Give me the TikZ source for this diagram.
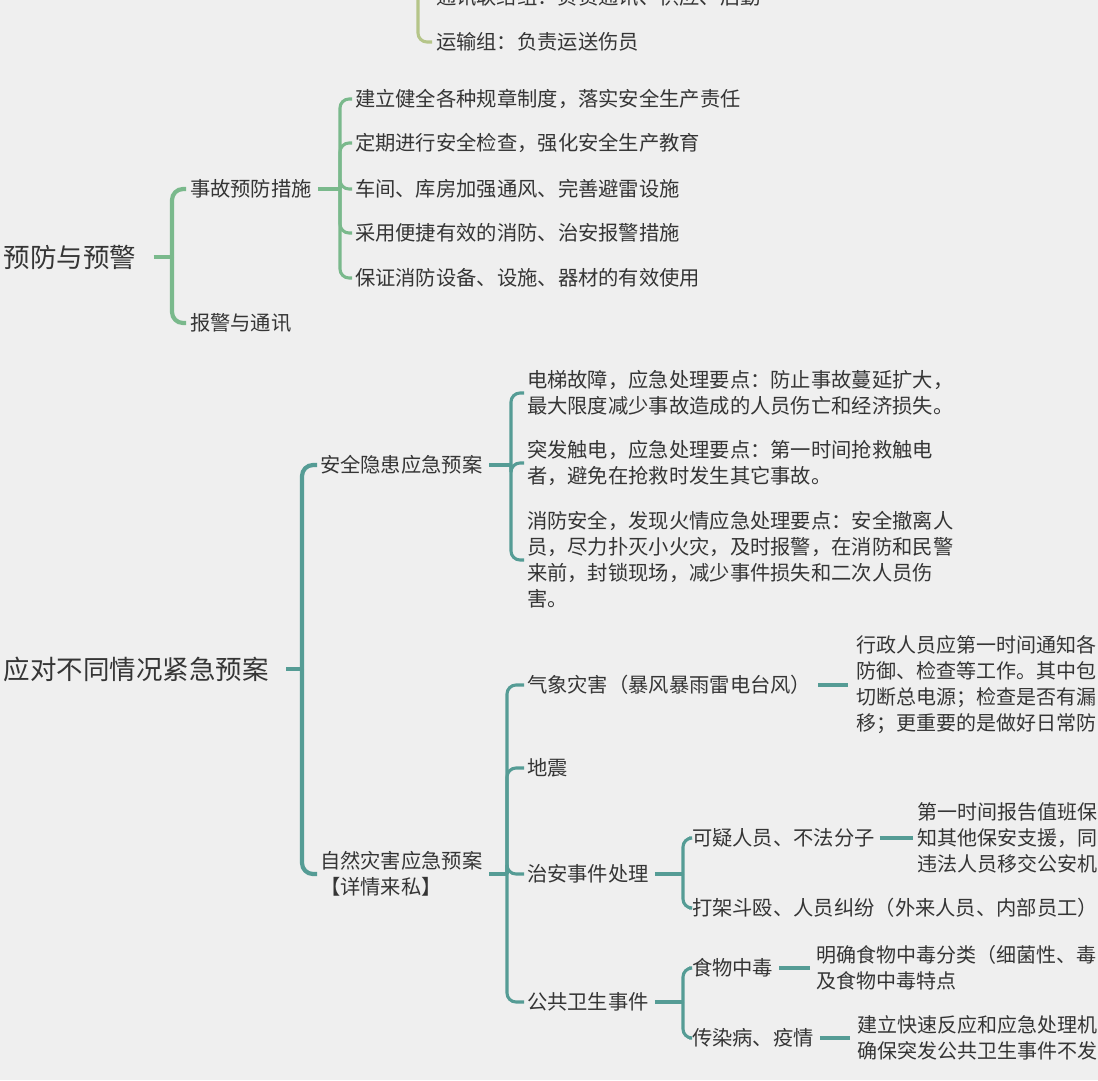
\documentclass[tikz,border=0pt]{standalone}
\usepackage{fontspec}
\setmainfont{Noto Sans CJK SC}
\definecolor{bgc}{HTML}{EFEFEF}
\definecolor{txt}{HTML}{353535}
\definecolor{olivec}{HTML}{B5C589}
\definecolor{greenc}{HTML}{7AB98C}
\definecolor{tealc}{HTML}{559C95}
\tikzset{
  lbl/.style={inner sep=0pt, outer sep=0pt, anchor=west, text=txt, align=left, font=\fontsize{20.3}{26}\selectfont},
  edgelbl/.style={lbl, font=\fontsize{20}{26}\selectfont},
  rootlbl/.style={lbl, font=\fontsize{26.5}{32}\selectfont},
  oline/.style={draw=olivec, line width=3.1pt, rounded corners=9pt},
  gmain/.style={draw=greenc, line width=4.2pt, rounded corners=11pt},
  gsub/.style={draw=greenc, line width=3.1pt, rounded corners=9pt},
  tmain/.style={draw=tealc, line width=4.2pt, rounded corners=11pt},
  tsub/.style={draw=tealc, line width=3.1pt, rounded corners=9pt},
}
\begin{document}
\begin{tikzpicture}[x=1pt,y=-1pt]
\fill[bgc] (0,0) rectangle (1098,1080);
\useasboundingbox (0,0) rectangle (1098,1080);
\clip (0,0) rectangle (1098,1080);

% ---------- top (olive) ----------
\node[lbl] (T0) at (436,-3) {通讯联络组：负责通讯、供应、后勤};
\node[lbl] (T1) at (436,42) {运输组：负责运送伤员};
\coordinate (ttop) at (418,-40);
\draw[oline] (ttop) |- ([xshift=-4pt]T0.west);
\draw[oline] (ttop) |- ([xshift=-4pt]T1.west);

% ---------- 预防与预警 (green) ----------
\node[rootlbl] (R1) at (4,257) {预防与预警};
\node[lbl] (A) at (190,189) {事故预防措施};
\node[lbl] (B) at (190,323) {报警与通讯};
\node[lbl] (A1) at (355,99) {建立健全各种规章制度，落实安全生产责任};
\node[lbl] (A2) at (355,143) {定期进行安全检查，强化安全生产教育};
\node[lbl] (A3) at (355,189) {车间、库房加强通风、完善避雷设施};
\node[lbl] (A4) at (355,233) {采用便捷有效的消防、治安报警措施};
\node[lbl] (A5) at (355,278) {保证消防设备、设施、器材的有效使用};

\coordinate (j1) at (172,257);
\coordinate (j2) at (340,189);
\draw[gmain] ([xshift=17pt]R1.east) -- (j1);
\draw[gmain] (j1) |- ([xshift=-4pt]A.west);
\draw[gmain] (j1) |- ([xshift=-4pt]B.west);
\draw[gsub] ([xshift=6pt]A.east) -- (j2);
\foreach \c in {A1,A2,A3,A4,A5}{
  \draw[gsub] (j2) |- ([xshift=-3pt]\c.west);
}

% ---------- 应对不同情况紧急预案 (teal) ----------
\node[rootlbl] (R2) at (4,669) {应对不同情况紧急预案};
\node[lbl] (C) at (320,465) {安全隐患应急预案};
\node[lbl] (D) at (320,874) {自然灾害应急预案\\【详情来私】};

\node[lbl] (C1) at (527,393) {电梯故障，应急处理要点：防止事故蔓延扩大，\\最大限度减少事故造成的人员伤亡和经济损失。};
\node[lbl] (C2) at (527,463) {突发触电，应急处理要点：第一时间抢救触电\\者，避免在抢救时发生其它事故。};
\node[lbl] (C3) at (527,560) {消防安全，发现火情应急处理要点：安全撤离人\\员，尽力扑灭小火灾，及时报警，在消防和民警\\来前，封锁现场，减少事件损失和二次人员伤\\害。};

\node[lbl] (E1) at (527,685) {气象灾害（暴风暴雨雷电台风）};
\node[edgelbl] (E1a) at (856,685) {行政人员应第一时间通知各\\防御、检查等工作。其中包\\切断总电源；检查是否有漏\\移；更重要的是做好日常防};
\node[lbl] (E2) at (527,768) {地震};
\node[lbl] (E3) at (527,874) {治安事件处理};
\node[lbl] (F1) at (692,838) {可疑人员、不法分子};
\node[edgelbl] (F1a) at (917,838) {第一时间报告值班保\\知其他保安支援，同\\违法人员移交公安机};
\node[lbl] (F2) at (692,908) {打架斗殴、人员纠纷（外来人员、内部员工）};
\node[lbl] (E4) at (527,1002) {公共卫生事件};
\node[lbl] (G1) at (692,968) {食物中毒};
\node[edgelbl] (G1a) at (816,968) {明确食物中毒分类（细菌性、毒\\及食物中毒特点};
\node[lbl] (G2) at (692,1038) {传染病、疫情};
\node[edgelbl] (G2a) at (857,1038) {建立快速反应和应急处理机\\确保突发公共卫生事件不发};

\coordinate (j3) at (302,669);
\coordinate (j4) at (511,465);
\coordinate (j5) at (507,874);
\coordinate (j6) at (683,874);
\coordinate (j7) at (683,1002);

\draw[tmain] ([xshift=17pt]R2.east) -- (j3);
\draw[tmain] (j3) |- ([xshift=-3pt]C.west);
\draw[tmain] (j3) |- ([xshift=-3pt]D.west);

\draw[tsub] ([xshift=7pt]C.east) -- (j4);
\foreach \c in {C1,C2,C3}{
  \draw[tsub] (j4) |- ([xshift=-3pt]\c.west);
}

\draw[tsub] ([xshift=7pt]D.east) -- (j5);
\foreach \c in {E1,E2,E3,E4}{
  \draw[tsub] (j5) |- ([xshift=-3pt]\c.west);
}
\draw[tsub] ([xshift=7pt]E1.east) -- ([xshift=-8pt]E1a.west);

\draw[tsub] ([xshift=6pt]E3.east) -- (j6);
\foreach \c in {F1,F2}{
  \draw[tsub] (j6) |- ([xshift=-3pt]\c.west);
}
\draw[tsub] ([xshift=5pt]F1.east) -- ([xshift=-4pt]F1a.west);

\draw[tsub] ([xshift=6pt]E4.east) -- (j7);
\foreach \c in {G1,G2}{
  \draw[tsub] (j7) |- ([xshift=-3pt]\c.west);
}
\draw[tsub] ([xshift=6pt]G1.east) -- ([xshift=-6pt]G1a.west);
\draw[tsub] ([xshift=6pt]G2.east) -- ([xshift=-7pt]G2a.west);
\end{tikzpicture}
\end{document}
